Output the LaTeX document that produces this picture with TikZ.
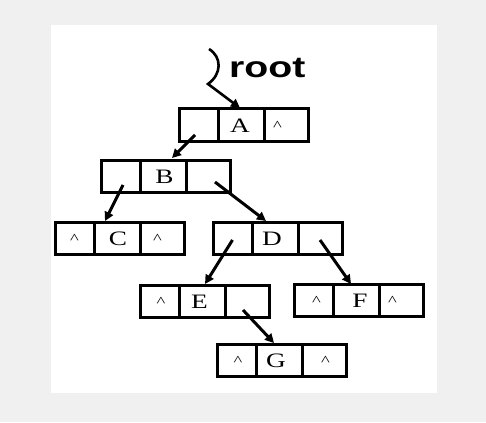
\documentclass[tikz,border=0pt]{standalone}
\usepackage{fontspec}
\setmainfont{Liberation Serif}
\newfontfamily\cellfont[FakeStretch=1.33]{Liberation Serif}
\newfontfamily\rootfont[FakeStretch=1.33]{Liberation Sans}
\usetikzlibrary{arrows.meta,calc}
\definecolor{bggray}{RGB}{240,240,240}
\newcommand\mkrec[3]{%
  \node[cell,anchor=north west,minimum width=39pt] (#11) at (#2,#3) {};
  \node[cell,minimum width=46pt] (#12) at (#11.east) {};
  \node[cell,minimum width=44pt] (#13) at (#12.east) {};}
\begin{document}
\begin{tikzpicture}[x=1pt,y=-1pt,
  cell/.style={draw,line width=3pt,minimum height=32pt,inner sep=0pt,outer sep=0pt,anchor=west},
  letter/.style={font=\cellfont\fontsize{20.5}{20.5}\selectfont,inner sep=0pt,anchor=base},
  caret/.style={font=\cellfont\fontsize{14}{14}\selectfont,inner sep=0pt},
  arr/.style={line width=3pt,-{Triangle[length=9pt,width=9pt]}}]
\useasboundingbox (0,0) rectangle (486,422);
\fill[bggray] (0,0) rectangle (486,422);
\fill[white] (51,25) rectangle (437,393);
% records
\mkrec{A}{179}{109}
\mkrec{B}{101}{160}
\mkrec{C}{55}{222}
\mkrec{D}{213}{222}
\mkrec{E}{140}{285}
\mkrec{F}{294}{284}
\mkrec{G}{217}{344}
% letters
\node[letter] (tA) at ($(A2.center)+(-1,7.5)$) {A};
\node[letter] (tB) at ($(B2.center)+(1.5,7.5)$) {B};
\node[letter] (tC) at ($(C2.center)+(1,7.5)$) {C};
\node[letter] (tD) at ($(D2.center)+(-3,7.5)$) {D};
\node[letter] (tE) at ($(E2.center)+(-2.5,7.5)$) {E};
\node[letter] (tF) at ($(F2.center)+(4,7.5)$) {F};
\node[letter] (tG) at ($(G2.center)+(-3,7.5)$) {G};
% carets
\node[caret] (cA3) at ($(A3.center)+(-8.5,1)$) {\textasciicircum};
\node[caret] (cC1) at ($(C1.center)+(0,1)$) {\textasciicircum};
\node[caret] (cC3) at ($(C3.center)+(-4.5,1)$) {\textasciicircum};
\node[caret] (cE1) at ($(E1.center)+(1.5,1)$) {\textasciicircum};
\node[caret] (cF1) at ($(F1.center)+(3,1)$) {\textasciicircum};
\node[caret] (cF3) at ($(F3.center)+(-8.5,1)$) {\textasciicircum};
\node[caret] (cG1) at ($(G1.center)+(1.5,1)$) {\textasciicircum};
\node[caret] (cG3) at ($(G3.center)+(1.5,1)$) {\textasciicircum};
% root label and pointer
\node[anchor=base west,inner sep=0pt,font=\rootfont\bfseries\fontsize{29.5}{29.5}\selectfont] (root) at (229,78) {root};
\coordinate (sqa) at (209,49);
\coordinate (sqb) at (208,84);
\draw[arr,line width=2.6pt] (sqa) .. controls (222,57) and (222,74) .. (sqb) -- ($(A2.north)+(-1,-1)$);
% child pointers
\draw[arr] ($(A1.center)+(-3.5,10)$) -- ($(B2.north)+(9,-2)$);
\draw[arr] ($(B1.center)+(2.5,9)$) -- ($(C2.north)+(-12,-1)$);
\draw[arr] ($(B3.center)+(7,6)$) -- ($(D2.north)+(-9,-1)$);
\draw[arr] ($(D1.center)+(0,2)$) -- ($(E2.north)+(3,-1)$);
\draw[arr] ($(D3.center)+(0,2)$) -- ($(F2.north)+(-5,0)$);
\draw[arr] ($(E3.center)+(-4,9)$) -- ($(G2.north)+(-5,-1)$);
\end{tikzpicture}
\end{document}
